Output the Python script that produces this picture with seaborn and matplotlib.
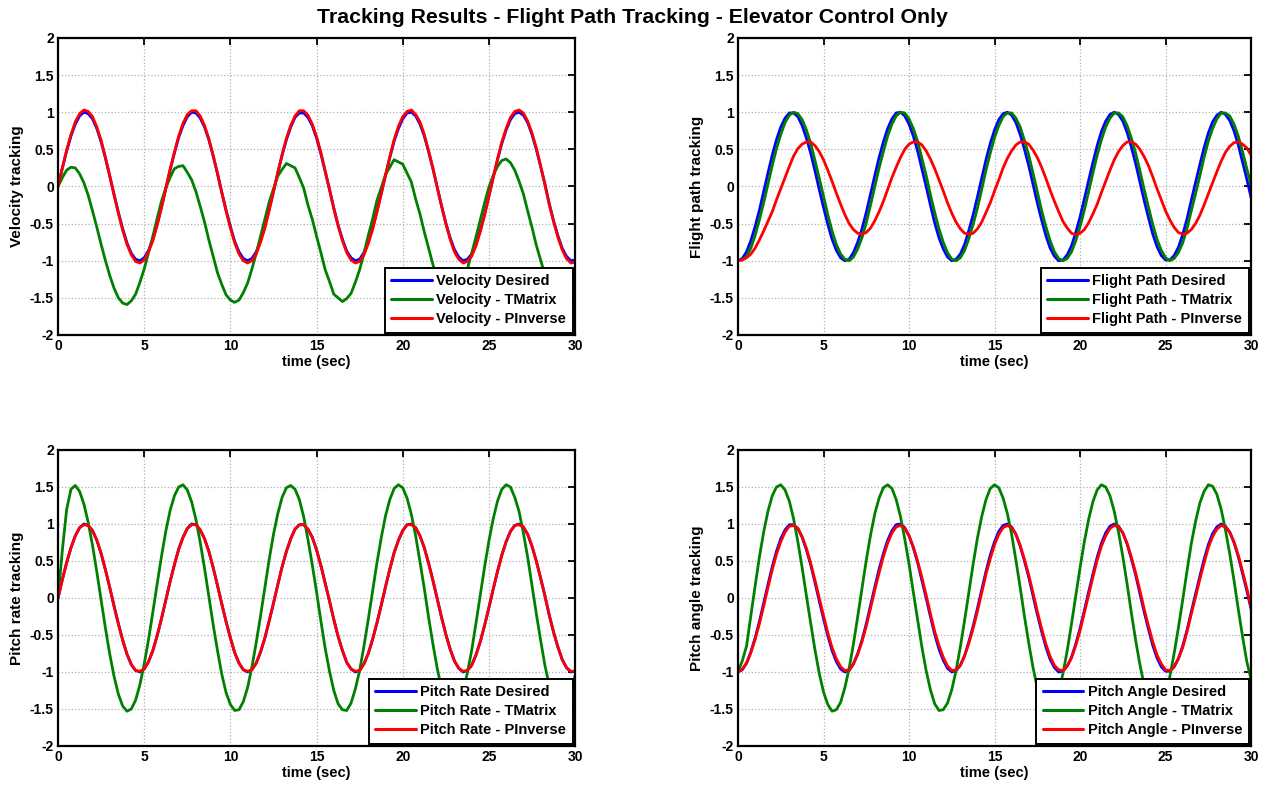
import numpy as np
import pandas as pd
import matplotlib
matplotlib.use("Agg")
import matplotlib.pyplot as plt
import seaborn as sns

# ---------------- data ----------------
# Each series is given as values at 0, 0.5, 1.0, ... 30 s ("_g") and at the
# quarter points 0.25, 0.75, ... 29.75 s ("_q").
time_grid = np.arange(0, 30.01, 0.5)
time_quarter = np.arange(0.25, 30.0, 0.5)

velocity_desired_g = [0.00, 0.48, 0.84, 1.00, 0.91, 0.60, 0.14, -0.35, -0.76, -0.98, -0.96, -0.71, -0.28, 0.22, 0.66,
                      0.94, 0.99, 0.80, 0.41, -0.08, -0.54, -0.88, -1.00, -0.88, -0.54, -0.07, 0.42, 0.80, 0.99, 0.93,
                      0.65, 0.20, -0.29, -0.71, -0.96, -0.98, -0.75, -0.34, 0.15, 0.61, 0.91, 1.00, 0.84, 0.47, -0.01,
                      -0.49, -0.85, -1.00, -0.91, -0.59, -0.13, 0.36, 0.76, 0.98, 0.96, 0.70, 0.27, -0.23, -0.66, -0.94,
                      -0.99]
velocity_desired_q = [0.25, 0.68, 0.95, 0.98, 0.78, 0.38, -0.11, -0.57, -0.90, -1.00, -0.86, -0.51, -0.03, 0.45, 0.82,
                      1.00, 0.92, 0.63, 0.17, -0.32, -0.74, -0.97, -0.97, -0.73, -0.31, 0.18, 0.63, 0.93, 0.99, 0.82,
                      0.44, -0.04, -0.52, -0.87, -1.00, -0.89, -0.56, -0.10, 0.39, 0.78, 0.99, 0.95, 0.68, 0.24, -0.26,
                      -0.69, -0.95, -0.98, -0.77, -0.37, 0.12, 0.58, 0.90, 1.00, 0.86, 0.50, 0.03, -0.46, -0.83, -1.00]

velocity_tmatrix_g = [0.00, 0.22, 0.25, 0.05, -0.33, -0.78, -1.20, -1.50, -1.59, -1.45, -1.11, -0.67, -0.20, 0.12, 0.27,
                      0.19, -0.07, -0.48, -0.94, -1.32, -1.53, -1.53, -1.30, -0.90, -0.44, -0.03, 0.23, 0.28, 0.12, -0.25,
                      -0.67, -1.12, -1.45, -1.55, -1.44, -1.12, -0.66, -0.19, 0.16, 0.36, 0.30, 0.06, -0.37, -0.83, -1.24,
                      -1.47, -1.49, -1.28, -0.90, -0.45, -0.01, 0.27, 0.37, 0.22, -0.10, -0.55, -0.99, -1.34, -1.48,
                      -1.39, -1.12]
velocity_tmatrix_q = [0.12, 0.26, 0.17, -0.12, -0.55, -1.00, -1.37, -1.57, -1.54, -1.29, -0.89, -0.43, -0.02, 0.24, 0.28,
                      0.09, -0.27, -0.72, -1.16, -1.46, -1.56, -1.43, -1.11, -0.67, -0.21, 0.14, 0.31, 0.25, -0.02, -0.44,
                      -0.89, -1.28, -1.50, -1.51, -1.29, -0.90, -0.44, -0.02, 0.26, 0.33, 0.18, -0.17, -0.61, -1.05, -1.38,
                      -1.51, -1.41, -1.11, -0.68, -0.22, 0.15, 0.35, 0.32, 0.07, -0.33, -0.79, -1.19, -1.44, -1.47, -1.28]

velocity_pinverse_g = [0.00, 0.49, 0.87, 1.03, 0.94, 0.62, 0.14, -0.36, -0.78, -1.01, -0.99, -0.73, -0.29, 0.23, 0.68,
                       0.97, 1.02, 0.82, 0.42, -0.08, -0.56, -0.91, -1.03, -0.91, -0.56, -0.07, 0.43, 0.82, 1.02, 0.96,
                       0.67, 0.21, -0.30, -0.73, -0.99, -1.01, -0.77, -0.35, 0.15, 0.63, 0.94, 1.03, 0.87, 0.48, -0.01,
                       -0.50, -0.88, -1.03, -0.94, -0.61, -0.13, 0.37, 0.78, 1.01, 0.99, 0.72, 0.28, -0.24, -0.68, -0.97,
                       -1.02]
velocity_pinverse_q = [0.25, 0.70, 0.98, 1.01, 0.80, 0.39, -0.11, -0.59, -0.92, -1.03, -0.88, -0.52, -0.03, 0.46, 0.85,
                       1.02, 0.95, 0.64, 0.18, -0.33, -0.76, -1.00, -1.00, -0.75, -0.32, 0.19, 0.65, 0.95, 1.02, 0.84,
                       0.46, -0.04, -0.53, -0.89, -1.03, -0.92, -0.58, -0.10, 0.40, 0.81, 1.01, 0.97, 0.70, 0.25, -0.26,
                       -0.71, -0.98, -1.01, -0.80, -0.39, 0.12, 0.60, 0.93, 1.03, 0.88, 0.52, 0.03, -0.47, -0.85, -1.03]

flight_desired_g = [-1.00, -0.88, -0.54, -0.07, 0.42, 0.80, 0.99, 0.94, 0.65, 0.21, -0.28, -0.71, -0.96, -0.98, -0.75,
                    -0.35, 0.15, 0.60, 0.91, 1.00, 0.84, 0.48, 0.00, -0.49, -0.84, -1.00, -0.91, -0.59, -0.14, 0.36,
                    0.76, 0.98, 0.96, 0.70, 0.28, -0.22, -0.66, -0.94, -0.99, -0.80, -0.41, 0.08, 0.55, 0.88, 1.00,
                    0.88, 0.53, 0.06, -0.42, -0.81, -0.99, -0.93, -0.65, -0.19, 0.29, 0.72, 0.96, 0.97, 0.75, 0.33,
                    -0.15]
flight_desired_q = [-0.97, -0.73, -0.32, 0.18, 0.63, 0.92, 0.99, 0.82, 0.45, -0.04, -0.51, -0.86, -1.00, -0.89, -0.57,
                    -0.10, 0.39, 0.78, 0.99, 0.95, 0.68, 0.24, -0.25, -0.69, -0.95, -0.98, -0.78, -0.38, 0.11, 0.58,
                    0.90, 1.00, 0.86, 0.50, 0.03, -0.45, -0.83, -1.00, -0.92, -0.62, -0.17, 0.32, 0.74, 0.97, 0.97,
                    0.73, 0.31, -0.19, -0.64, -0.93, -0.99, -0.82, -0.44, 0.05, 0.52, 0.87, 1.00, 0.89, 0.56, 0.10]

flight_tmatrix_g = [-0.99, -0.94, -0.66, -0.22, 0.28, 0.70, 0.96, 0.98, 0.76, 0.35, -0.13, -0.60, -0.91, -1.00, -0.84,
                    -0.49, 0.00, 0.47, 0.84, 1.00, 0.91, 0.61, 0.15, -0.35, -0.75, -0.98, -0.96, -0.70, -0.29, 0.22,
                    0.66, 0.94, 0.99, 0.80, 0.42, -0.07, -0.54, -0.88, -1.00, -0.88, -0.54, -0.07, 0.42, 0.80, 0.99,
                    0.94, 0.65, 0.21, -0.28, -0.71, -0.96, -0.97, -0.76, -0.33, 0.14, 0.61, 0.91, 0.99, 0.84, 0.47,
                    0.02]
flight_tmatrix_q = [-0.99, -0.83, -0.45, 0.03, 0.51, 0.86, 1.00, 0.90, 0.58, 0.11, -0.38, -0.78, -0.98, -0.95, -0.69,
                    -0.25, 0.25, 0.68, 0.95, 0.99, 0.78, 0.38, -0.11, -0.57, -0.89, -1.00, -0.86, -0.51, -0.04, 0.45,
                    0.82, 0.99, 0.92, 0.62, 0.18, -0.32, -0.73, -0.97, -0.97, -0.73, -0.32, 0.18, 0.63, 0.92, 0.99,
                    0.82, 0.45, -0.04, -0.51, -0.86, -1.00, -0.89, -0.57, -0.10, 0.39, 0.78, 0.99, 0.95, 0.68, 0.24]

flight_pinverse_g = [-1.00, -0.96, -0.83, -0.60, -0.34, -0.03, 0.27, 0.51, 0.60, 0.55, 0.36, 0.07, -0.24, -0.50, -0.63,
                     -0.62, -0.46, -0.20, 0.12, 0.39, 0.57, 0.60, 0.48, 0.24, -0.06, -0.36, -0.57, -0.64, -0.57, -0.35,
                     -0.06, 0.25, 0.48, 0.60, 0.57, 0.39, 0.11, -0.20, -0.47, -0.63, -0.63, -0.49, -0.24, 0.07, 0.36,
                     0.55, 0.60, 0.50, 0.28, -0.03, -0.33, -0.55, -0.64, -0.58, -0.39, -0.10, 0.20, 0.46, 0.59, 0.57,
                     0.42]
flight_pinverse_q = [-0.99, -0.91, -0.72, -0.47, -0.18, 0.12, 0.41, 0.57, 0.60, 0.47, 0.22, -0.09, -0.38, -0.58, -0.64,
                     -0.56, -0.34, -0.04, 0.26, 0.50, 0.60, 0.56, 0.37, 0.09, -0.22, -0.48, -0.63, -0.63, -0.48, -0.22,
                     0.09, 0.38, 0.56, 0.60, 0.49, 0.26, -0.05, -0.34, -0.56, -0.65, -0.58, -0.37, -0.08, 0.22, 0.47,
                     0.60, 0.57, 0.40, 0.13, -0.18, -0.45, -0.62, -0.63, -0.50, -0.25, 0.05, 0.34, 0.54, 0.60, 0.52]

pitchrate_desired_g = list(velocity_desired_g)
pitchrate_desired_q = list(velocity_desired_q)

pitchrate_tmatrix_g = [0.00, 1.20, 1.52, 1.27, 0.71, -0.03, -0.76, -1.30, -1.53, -1.38, -0.89, -0.19, 0.56, 1.18, 1.50,
                       1.46, 1.06, 0.40, -0.36, -1.03, -1.44, -1.51, -1.21, -0.60, 0.14, 0.86, 1.36, 1.52, 1.33, 0.79,
                       0.08, -0.68, -1.25, -1.51, -1.42, -0.98, -0.29, 0.47, 1.11, 1.48, 1.49, 1.13, 0.49, -0.26, -0.95,
                       -1.41, -1.52, -1.27, -0.71, 0.04, 0.77, 1.31, 1.53, 1.36, 0.88, 0.17, -0.57, -1.18, -1.51, -1.45,
                       -1.05]
pitchrate_tmatrix_q = [0.65, 1.47, 1.44, 1.02, 0.35, -0.41, -1.06, -1.46, -1.50, -1.17, -0.56, 0.19, 0.90, 1.38, 1.53,
                       1.30, 0.75, 0.02, -0.71, -1.28, -1.52, -1.40, -0.93, -0.24, 0.52, 1.14, 1.49, 1.47, 1.10, 0.45,
                       -0.31, -0.99, -1.43, -1.52, -1.23, -0.65, 0.09, 0.81, 1.33, 1.53, 1.35, 0.84, 0.13, -0.62, -1.22,
                       -1.51, -1.44, -1.01, -0.34, 0.42, 1.07, 1.47, 1.50, 1.17, 0.55, -0.21, -0.91, -1.39, -1.53, -1.29]

pitchrate_pinverse_g = [0.00, 0.48, 0.84, 0.99, 0.91, 0.60, 0.14, -0.35, -0.76, -0.98, -0.96, -0.71, -0.28, 0.22, 0.66,
                        0.94, 0.99, 0.80, 0.41, -0.08, -0.54, -0.88, -0.99, -0.88, -0.54, -0.07, 0.42, 0.80, 0.99, 0.93,
                        0.65, 0.20, -0.29, -0.71, -0.96, -0.98, -0.75, -0.34, 0.15, 0.61, 0.91, 0.99, 0.84, 0.47, -0.01,
                        -0.49, -0.85, -0.99, -0.91, -0.59, -0.13, 0.36, 0.76, 0.98, 0.96, 0.70, 0.27, -0.23, -0.66, -0.94,
                        -0.99]
pitchrate_pinverse_q = [0.25, 0.68, 0.95, 0.98, 0.78, 0.38, -0.11, -0.57, -0.90, -0.99, -0.86, -0.51, -0.03, 0.45, 0.82,
                        0.99, 0.92, 0.63, 0.17, -0.32, -0.74, -0.97, -0.97, -0.73, -0.31, 0.18, 0.63, 0.93, 0.99, 0.82,
                        0.44, -0.04, -0.52, -0.87, -0.99, -0.89, -0.56, -0.10, 0.39, 0.78, 0.99, 0.95, 0.68, 0.24, -0.26,
                        -0.69, -0.95, -0.98, -0.77, -0.37, 0.12, 0.58, 0.90, 0.99, 0.86, 0.50, 0.03, -0.46, -0.83, -0.99]

pitchangle_desired_g = list(flight_desired_g)
pitchangle_desired_q = list(flight_desired_q)

pitchangle_tmatrix_g = [-1.00, -0.65, 0.16, 0.89, 1.38, 1.53, 1.31, 0.76, 0.03, -0.70, -1.27, -1.53, -1.41, -0.95, -0.25,
                        0.51, 1.14, 1.49, 1.48, 1.10, 0.46, -0.29, -0.98, -1.43, -1.51, -1.24, -0.66, 0.08, 0.81, 1.33,
                        1.53, 1.35, 0.86, 0.14, -0.61, -1.21, -1.51, -1.44, -1.02, -0.35, 0.41, 1.06, 1.46, 1.50, 1.17,
                        0.56, -0.20, -0.90, -1.38, -1.53, -1.30, -0.75, -0.03, 0.73, 1.28, 1.53, 1.40, 0.92, 0.24, -0.52,
                        -1.10]
pitchangle_tmatrix_q = [-0.85, -0.24, 0.55, 1.17, 1.50, 1.46, 1.07, 0.41, -0.34, -1.02, -1.44, -1.51, -1.21, -0.62, 0.13,
                        0.85, 1.35, 1.53, 1.33, 0.80, 0.08, -0.66, -1.24, -1.52, -1.42, -0.98, -0.30, 0.46, 1.10, 1.48,
                        1.49, 1.14, 0.51, -0.25, -0.94, -1.40, -1.52, -1.27, -0.71, 0.03, 0.76, 1.30, 1.53, 1.38, 0.89,
                        0.19, -0.57, -1.18, -1.50, -1.46, -1.06, -0.40, 0.36, 1.03, 1.44, 1.51, 1.20, 0.60, -0.15, -0.86]

pitchangle_pinverse_g = [-1.00, -0.88, -0.56, -0.11, 0.38, 0.76, 0.97, 0.94, 0.67, 0.24, -0.24, -0.67, -0.93, -0.97, -0.76,
                         -0.38, 0.11, 0.56, 0.88, 0.98, 0.84, 0.50, 0.04, -0.45, -0.80, -0.98, -0.91, -0.61, -0.18, 0.32,
                         0.72, 0.95, 0.95, 0.71, 0.31, -0.18, -0.62, -0.91, -0.98, -0.81, -0.44, 0.04, 0.51, 0.84, 0.98,
                         0.88, 0.55, 0.10, -0.38, -0.77, -0.97, -0.93, -0.67, -0.22, 0.25, 0.68, 0.93, 0.96, 0.76, 0.36,
                         -0.13]
pitchangle_pinverse_q = [-0.96, -0.74, -0.35, 0.14, 0.59, 0.89, 0.98, 0.83, 0.47, 0.00, -0.47, -0.82, -0.98, -0.89, -0.59,
                         -0.14, 0.34, 0.74, 0.96, 0.94, 0.69, 0.28, -0.21, -0.64, -0.92, -0.97, -0.78, -0.41, 0.07, 0.53,
                         0.86, 0.98, 0.86, 0.52, 0.07, -0.41, -0.79, -0.97, -0.92, -0.64, -0.20, 0.28, 0.70, 0.94, 0.96,
                         0.74, 0.34, -0.15, -0.59, -0.89, -0.98, -0.82, -0.46, 0.01, 0.47, 0.83, 0.98, 0.89, 0.58, 0.13]

panel_ylabels = ["Velocity tracking", "Flight path tracking", "Pitch rate tracking", "Pitch angle tracking"]
panel_names = [
    ["Velocity Desired", "Velocity - TMatrix", "Velocity - PInverse"],
    ["Flight Path Desired", "Flight Path - TMatrix", "Flight Path - PInverse"],
    ["Pitch Rate Desired", "Pitch Rate - TMatrix", "Pitch Rate - PInverse"],
    ["Pitch Angle Desired", "Pitch Angle - TMatrix", "Pitch Angle - PInverse"],
]
panel_series = [
    [(velocity_desired_g, velocity_desired_q), (velocity_tmatrix_g, velocity_tmatrix_q),
     (velocity_pinverse_g, velocity_pinverse_q)],
    [(flight_desired_g, flight_desired_q), (flight_tmatrix_g, flight_tmatrix_q),
     (flight_pinverse_g, flight_pinverse_q)],
    [(pitchrate_desired_g, pitchrate_desired_q), (pitchrate_tmatrix_g, pitchrate_tmatrix_q),
     (pitchrate_pinverse_g, pitchrate_pinverse_q)],
    [(pitchangle_desired_g, pitchangle_desired_q), (pitchangle_tmatrix_g, pitchangle_tmatrix_q),
     (pitchangle_pinverse_g, pitchangle_pinverse_q)],
]
x_ticks = [0, 5, 10, 15, 20, 25, 30]
y_ticks = [-2, -1.5, -1, -0.5, 0, 0.5, 1, 1.5, 2]
title_text = "Tracking Results - Flight Path Tracking - Elevator Control Only"


def merge(times_a, vals_a, times_b, vals_b):
    """Combine the two sample sets of one series into time order."""
    t = np.concatenate([times_a, times_b])
    v = np.concatenate([np.asarray(vals_a, float), np.asarray(vals_b, float)])
    order = np.argsort(t, kind="stable")
    return t[order], v[order]


# ---------------- style ----------------
sns.set_style("white")
plt.rcParams['font.family'] = ['Liberation Sans', 'DejaVu Sans']
plt.rcParams['font.weight'] = 'bold'
plt.rcParams['axes.labelweight'] = 'bold'
plt.rcParams['text.color'] = 'black'
plt.rcParams['axes.labelcolor'] = 'black'
plt.rcParams['xtick.color'] = 'black'
plt.rcParams['ytick.color'] = 'black'

line_colors = ["#0000ff", "#008000", "#ff0000"]

fig = plt.figure(figsize=(12.65, 7.86), dpi=100)
positions = [
    [0.0459, 0.5738, 0.4087, 0.3779],
    [0.5834, 0.5738, 0.4056, 0.3779],
    [0.0459, 0.0509, 0.4087, 0.3766],
    [0.5834, 0.0509, 0.4056, 0.3766],
]

for pos, ylabel, names, series in zip(positions, panel_ylabels, panel_names, panel_series):
    ax = fig.add_axes(pos)
    frames = []
    for name, (vg, vq) in zip(names, series):
        t, v = merge(time_grid, vg, time_quarter, vq)
        frames.append(pd.DataFrame({"time": t, "value": v, "series": name}))
    df = pd.concat(frames, ignore_index=True)
    sns.lineplot(data=df, x="time", y="value", hue="series", hue_order=names,
                 palette=dict(zip(names, line_colors)), estimator=None, sort=False,
                 linewidth=2.0, ax=ax, legend=False)
    ax.set_xlim(0, 30)
    ax.set_ylim(-2, 2)
    ax.set_xticks(x_ticks)
    ax.set_yticks(y_ticks)
    ax.set_xticklabels([f"{v:g}" for v in x_ticks])
    ax.set_yticklabels([f"{v:g}" for v in y_ticks])
    ax.grid(True, color="#b0b0b0", linestyle=":", linewidth=0.9)
    ax.tick_params(direction="in", top=True, right=True, length=5, width=1.3,
                   labelsize=10, pad=3, colors="black")
    for sp in ax.spines.values():
        sp.set_linewidth(1.6)
        sp.set_color("black")
    ax.set_xlabel("time (sec)", fontsize=10.5, fontweight="bold", labelpad=1, color="black")
    ax.set_ylabel(ylabel, fontsize=11, fontweight="bold", color="black")
    ax.yaxis.set_label_coords(-0.066, 0.5)
    handles = [plt.Line2D([], [], color=c, linewidth=2.2) for c in line_colors]
    leg = ax.legend(handles, names, loc="lower right", frameon=True, fancybox=False,
                    framealpha=1, edgecolor="black", borderaxespad=0.15,
                    handlelength=2.8, handletextpad=0.3, labelspacing=0.34, borderpad=0.45,
                    prop={"weight": "bold", "size": 10.5})
    for txt in leg.get_texts():
        txt.set_color("black")
    leg.get_frame().set_linewidth(1.4)

fig.text(0.5, 0.978, title_text, ha="center", va="center", fontsize=15.3,
         fontweight="bold", color="black")

fig.savefig("out.png", dpi=100)
